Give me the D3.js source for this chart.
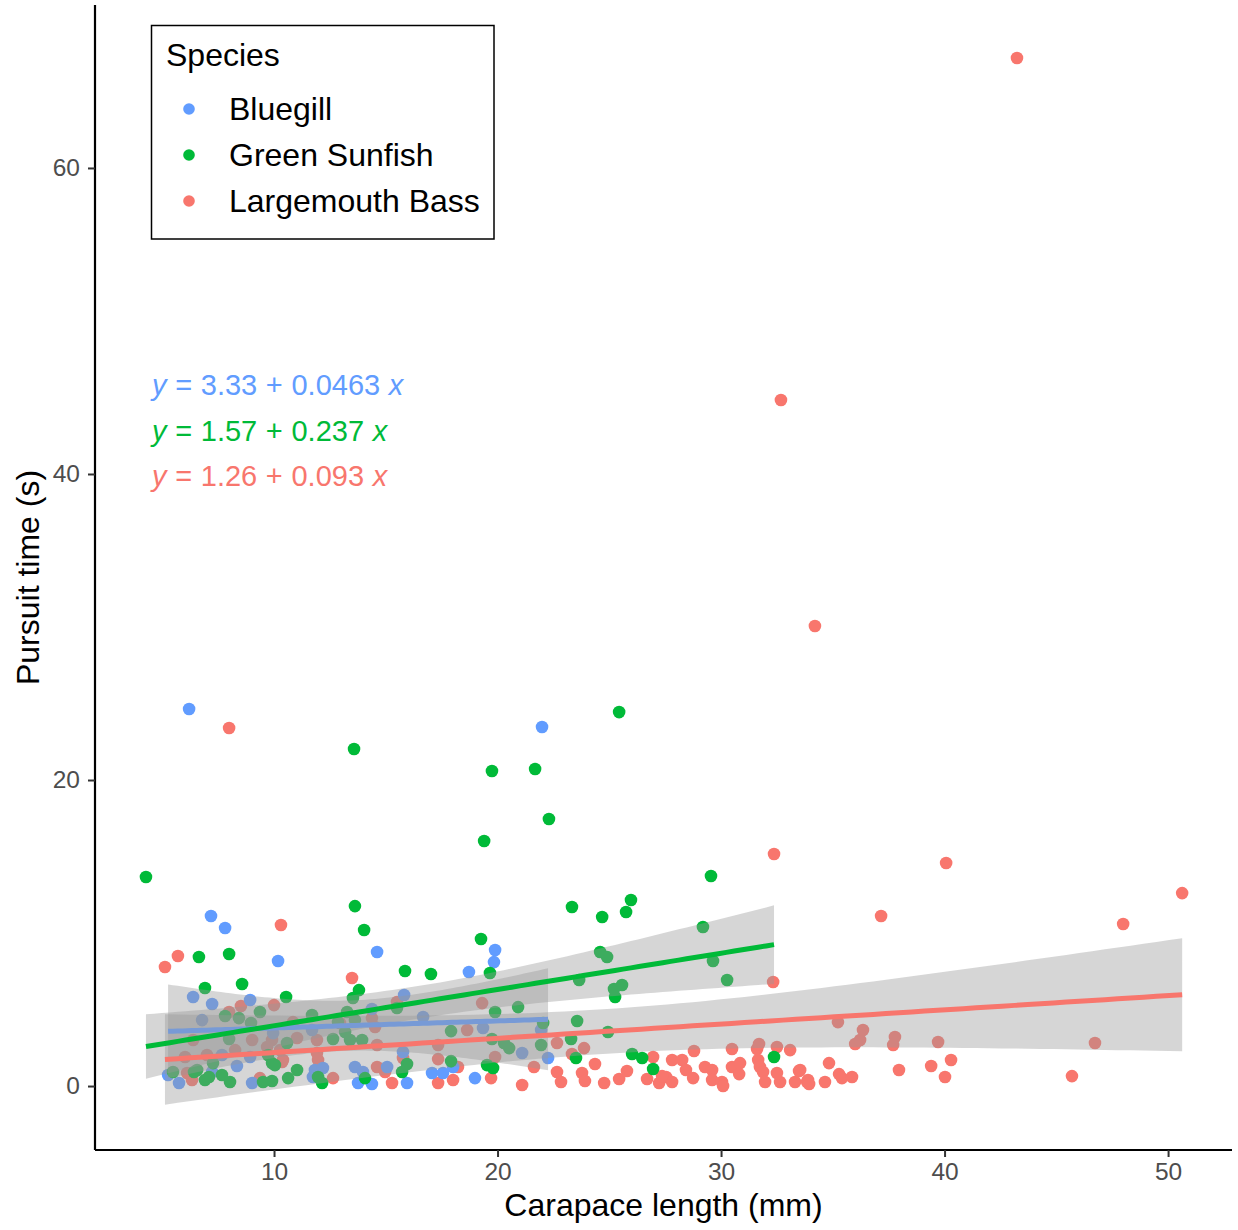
<!doctype html>
<html>
<head>
<meta charset="UTF-8" />
<title>Pursuit time vs carapace length</title>
<script src="https://d3js.org/d3.v7.min.js"></script>
<style>
  body { margin: 0; background: #fff; }
  text { font-family: "Liberation Sans", Arial, Helvetica, sans-serif; }
</style>
</head>
<body>
<div id="chart"></div>
<script>
// species and colours (ggplot default hue)
const species = ["Bluegill", "Green Sunfish", "Largemouth Bass"];
const colors = ["#619CFF", "#00BA38", "#F8766D"];

// fitted equations shown on the chart
const eqIntercepts = ["3.33", "1.57", "1.26"];
const eqSlopes = ["0.0463", "0.237", "0.093"];

// tick values
const xTicks = [10, 20, 30, 40, 50];
const yTicks = [0, 20, 40, 60];

// Bluegill: carapace length (mm), pursuit time (s)
const bluegillX = [6.20, 21.99, 7.18, 7.81, 10.18, 14.61, 18.72, 19.89, 19.84, 6.38, 7.23, 8.93, 6.78, 9.96, 7.67, 8.93, 8.34, 5.26, 5.75, 7.23, 9.02, 15.82, 14.38, 11.70, 15.77, 11.83, 12.19, 11.74, 13.62, 13.98, 13.76, 14.38, 15.06, 15.95, 16.67, 19.35, 21.10, 18.01, 17.07, 17.56, 18.99, 22.26, 21.95];
const bluegillY = [24.64, 23.46, 11.11, 10.33, 8.17, 8.76, 7.45, 8.89, 8.10, 5.82, 5.36, 5.62, 4.31, 3.46, 2.03, 1.90, 1.31, 0.72, 0.20, 0.92, 0.20, 5.95, 5.03, 3.66, 2.22, 1.05, 1.18, 0.59, 1.24, 0.92, 0.20, 0.13, 1.24, 0.20, 4.51, 3.79, 2.16, 1.24, 0.85, 0.85, 0.52, 1.83, 3.66];

// Green Sunfish
const sunfishX = [4.27, 13.58, 25.44, 19.75, 21.68, 22.30, 19.40, 13.62, 14.03, 29.55, 23.33, 25.97, 24.68, 25.75, 29.19, 19.26, 6.64, 7.99, 15.86, 17.02, 19.66, 6.91, 8.57, 10.54, 13.80, 24.59, 24.90, 29.64, 30.27, 23.65, 25.21, 25.57, 25.26, 23.56, 24.94, 23.29, 23.51, 26.02, 26.47, 26.96, 32.37, 7.81, 8.43, 9.37, 8.97, 7.99, 7.27, 6.42, 5.48, 6.91, 7.09, 7.67, 8.03, 9.51, 9.91, 9.73, 9.91, 6.56, 10.63, 11.03, 13.53, 13.27, 11.70, 12.86, 13.62, 15.50, 13.18, 13.40, 12.64, 13.94, 10.58, 15.95, 10.04, 11.97, 12.15, 14.07, 15.73, 19.89, 20.92, 17.92, 19.75, 20.29, 20.52, 17.92, 19.53, 19.80, 21.95, 22.04];
const sunfishY = [13.66, 22.03, 24.44, 20.59, 20.72, 17.45, 16.01, 11.76, 10.20, 13.73, 11.70, 12.16, 11.05, 11.37, 10.39, 9.61, 8.43, 8.63, 7.52, 7.32, 7.39, 6.41, 6.67, 5.82, 6.27, 8.76, 8.43, 8.17, 6.93, 6.93, 6.34, 6.60, 5.82, 4.25, 3.53, 3.07, 1.83, 2.09, 1.83, 1.11, 1.90, 4.58, 4.44, 4.84, 4.12, 3.07, 1.50, 0.92, 0.92, 0.39, 0.59, 0.72, 0.26, 0.26, 0.33, 2.03, 1.50, 1.05, 0.52, 1.05, 5.75, 4.84, 4.64, 4.18, 4.31, 5.10, 3.53, 3.01, 3.07, 3.01, 2.81, 1.44, 1.37, 0.59, 0.20, 0.52, 0.92, 4.84, 5.16, 3.59, 3.07, 2.81, 2.48, 1.63, 1.37, 1.18, 2.68, 4.12];

// Largemouth Bass
const bassX = [43.24, 32.68, 34.20, 7.99, 32.37, 40.07, 50.63, 37.16, 47.99, 10.31, 5.12, 5.70, 13.49, 32.33, 45.70, 46.73, 22.66, 23.87, 23.33, 24.36, 22.66, 22.84, 23.78, 23.91, 24.77, 25.44, 25.79, 26.96, 26.69, 27.23, 27.54, 27.81, 27.81, 27.36, 28.26, 28.79, 28.43, 28.75, 29.28, 29.60, 29.60, 30.04, 30.09, 30.49, 30.49, 30.85, 30.81, 31.61, 31.70, 31.66, 31.74, 31.88, 31.97, 32.50, 32.64, 33.09, 33.54, 33.31, 33.85, 32.50, 33.49, 33.89, 33.94, 34.65, 34.83, 35.23, 35.28, 35.41, 35.86, 36.00, 36.22, 36.35, 37.70, 37.78, 37.96, 39.40, 39.71, 40.02, 40.29, 7.99, 8.52, 10.00, 6.38, 6.02, 7.00, 8.26, 9.02, 9.91, 6.11, 6.33, 9.37, 10.36, 10.85, 11.03, 11.92, 9.69, 12.64, 14.38, 14.52, 11.92, 10.27, 14.61, 15.77, 10.40, 11.97, 14.61, 14.97, 15.28, 19.31, 18.64, 17.34, 17.34, 19.89, 18.23, 17.34, 18.01, 19.71, 21.10, 21.63, 15.50, 12.95];
const bassY = [67.19, 44.84, 30.07, 23.40, 15.16, 14.58, 12.61, 11.11, 10.59, 10.52, 7.78, 8.50, 7.06, 6.80, 0.65, 2.81, 2.81, 2.48, 2.09, 1.44, 0.92, 0.26, 0.85, 0.33, 0.20, 0.46, 0.98, 1.90, 0.46, 0.20, 0.59, 1.70, 0.26, 0.65, 1.70, 2.29, 1.05, 0.52, 1.24, 1.05, 0.39, 0.26, 0.00, 2.42, 1.24, 1.50, 0.78, 2.42, 2.75, 1.70, 1.24, 0.92, 0.26, 2.55, 0.26, 2.35, 1.05, 0.26, 0.26, 0.85, 0.98, 0.39, 0.13, 0.26, 1.50, 4.18, 0.78, 0.52, 0.59, 2.75, 3.01, 3.66, 2.68, 3.20, 1.05, 1.31, 2.88, 0.59, 1.70, 4.84, 5.23, 5.29, 3.01, 1.90, 2.03, 2.35, 3.01, 3.01, 0.85, 0.39, 0.52, 1.57, 4.18, 3.14, 2.16, 2.55, 0.52, 4.44, 3.86, 3.01, 2.35, 2.68, 1.83, 1.70, 1.70, 1.24, 0.92, 0.20, 5.42, 3.66, 2.68, 1.76, 1.90, 1.24, 0.20, 0.39, 0.52, 0.07, 1.24, 5.49, 4.12];

const groupsX = [bluegillX, sunfishX, bassX];
const groupsY = [bluegillY, sunfishY, bassY];

const width = 1238, height = 1230;
const panel = {left: 95, right: 1232, top: 5, bottom: 1150};

const x = d3.scaleLinear().domain([1.99, 52.86]).range([panel.left, panel.right]);
const y = d3.scaleLinear().domain([-4.18, 70.65]).range([panel.bottom, panel.top]);

const svg = d3.select("#chart").append("svg")
    .attr("width", width)
    .attr("height", height);

// points: bass first, then bluegill, then sunfish on top
[2, 0, 1].forEach(g => {
  svg.append("g").selectAll("circle")
    .data(d3.range(groupsX[g].length))
    .join("circle")
      .attr("cx", i => x(groupsX[g][i]))
      .attr("cy", i => y(groupsY[g][i]))
      .attr("r", 6.3)
      .attr("fill", colors[g]);
});

// lm line with 95% confidence band, like geom_smooth(method = "lm")
function smooth(g) {
  const xs = groupsX[g], ys = groupsY[g];
  const a = parseFloat(eqIntercepts[g]), b = parseFloat(eqSlopes[g]);
  const n = xs.length;
  const xbar = d3.mean(xs);
  const sxx = d3.sum(xs, v => (v - xbar) ** 2);
  const s = Math.sqrt(d3.sum(xs, (v, i) => (ys[i] - a - b * v) ** 2) / (n - 2));
  const t = 1.98;
  const [x0, x1] = d3.extent(xs);
  return d3.range(80).map(i => {
    const xv = x0 + (x1 - x0) * i / 79;
    const fit = a + b * xv;
    const se = s * Math.sqrt(1 / n + (xv - xbar) ** 2 / sxx);
    return {x: xv, fit: fit, lo: fit - t * se, hi: fit + t * se};
  });
}
const fits = [0, 1, 2].map(smooth);

const area = d3.area().x(d => x(d.x)).y0(d => y(d.lo)).y1(d => y(d.hi));
const line = d3.line().x(d => x(d.x)).y(d => y(d.fit));

function drawRibbon(g) {
  svg.append("path").datum(fits[g]).attr("d", area)
    .attr("fill", "#999999").attr("fill-opacity", 0.4);
}
function drawLine(g) {
  svg.append("path").datum(fits[g]).attr("d", line)
    .attr("fill", "none").attr("stroke", colors[g]).attr("stroke-width", 5);
}
drawRibbon(0);
drawRibbon(1);
drawLine(0);
drawRibbon(2);
drawLine(2);
drawLine(1);

// axes
const xAxis = svg.append("g")
    .attr("transform", `translate(0,${panel.bottom})`)
    .call(d3.axisBottom(x).tickValues(xTicks).tickSize(7).tickSizeOuter(0).tickPadding(6));
const yAxis = svg.append("g")
    .attr("transform", `translate(${panel.left},0)`)
    .call(d3.axisLeft(y).tickValues(yTicks).tickSize(7).tickSizeOuter(0).tickPadding(8));

[xAxis, yAxis].forEach(ax => {
  ax.select(".domain").attr("stroke", "#000").attr("stroke-width", 2.2);
  ax.selectAll(".tick line").attr("stroke", "#333").attr("stroke-width", 2);
  ax.selectAll(".tick text")
    .attr("fill", "#4D4D4D")
    .style("font-size", "24.5px")
    .style("font-family", "'Liberation Sans', Arial, sans-serif");
});
xAxis.select(".domain").attr("d", `M${panel.left},0H${panel.right}`);
yAxis.select(".domain").attr("d", `M0,${panel.top}V${panel.bottom}`);

// axis titles
svg.append("text")
    .attr("x", (panel.left + panel.right) / 2)
    .attr("y", 1216)
    .attr("text-anchor", "middle")
    .style("font-size", "32px")
    .text("Carapace length (mm)");
svg.append("text")
    .attr("transform", `translate(39,${(panel.top + panel.bottom) / 2}) rotate(-90)`)
    .attr("text-anchor", "middle")
    .style("font-size", "32px")
    .text("Pursuit time (s)");

// equations
[0, 1, 2].forEach(g => {
  const t = svg.append("text")
      .attr("x", 152)
      .attr("y", 395 + g * 45.5)
      .attr("fill", colors[g])
      .style("font-size", "29px")
      .style("word-spacing", "0.6px");
  t.append("tspan").style("font-style", "italic").text("y");
  t.append("tspan").text(` = ${eqIntercepts[g]} + ${eqSlopes[g]} `);
  t.append("tspan").style("font-style", "italic").text("x");
});

// legend
const legend = svg.append("g");
legend.append("rect")
    .attr("x", 151.5).attr("y", 25.5)
    .attr("width", 342.5).attr("height", 213.5)
    .attr("fill", "#fff").attr("stroke", "#000").attr("stroke-width", 1.5);
legend.append("text")
    .attr("x", 166).attr("y", 66)
    .style("font-size", "32px")
    .text("Species");
species.forEach((name, i) => {
  const cy = 109 + i * 46;
  legend.append("circle").attr("cx", 189).attr("cy", cy).attr("r", 5.8).attr("fill", colors[i]);
  legend.append("text")
      .attr("x", 229).attr("y", cy + 11)
      .style("font-size", "32px")
      .text(name);
});
</script>
</body>
</html>
